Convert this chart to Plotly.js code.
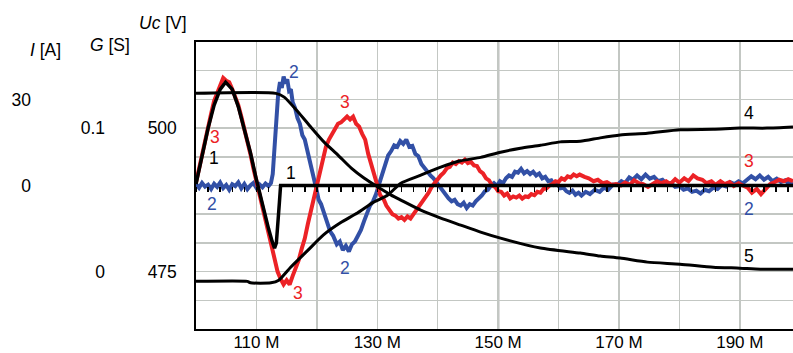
<!DOCTYPE html>
<html><head><meta charset="utf-8">
<script src="https://cdn.plot.ly/plotly-3.0.1.min.js"></script>
<style>html,body{margin:0;padding:0;background:#fff}#chart{width:793px;height:353px}</style>
</head><body><div id="chart"></div>
<script>
// ---- axis ticks ----
const xGridVals = [110,120,130,140,150,160,170,180,190];
const xTickText = ['110 M','','130 M','','150 M','','170 M','','190 M'];
const iTickVals = [0,30];
const gTickVals = [0,0.1];
const gTickText = ['0','0.1'];
const ucTickVals = [475,500];
const markerX = 150;

// ---- series 2 (blue), current axis ----
const blueX = [100,100.5,101,101.5,102,102.5,103,103.5,104,104.5,105,105.5,106,106.5,107,107.5,108,108.5,109,109.5,110,110.5,111,111.5,112,112.4,112.7,113,113.3,113.6,113.9,114.2,114.5,114.8,115.1,115.4,115.7,116,116.4,116.8,117.2,117.6,118,118.5,118.9,119.3,119.7,120,120.3,120.7,121.1,121.6,122.2,122.7,123.3,123.8,124.3,124.8,125.3,125.8,126.3,126.8,127.3,127.8,128.3,128.8,129.3,129.8,130.3,130.8,131.3,131.8,132.3,132.8,133.3,133.8,134.3,134.8,135.3,135.8,136.3,136.8,137.3,137.8,138.3,138.8,139.3,139.8,140.3,140.8,141.3,141.8,142.3,142.8,143.3,143.8,144.3,144.8,145.3,145.8,146.3,146.8,147.3,147.8,148.3,148.8,149.3,149.8,150.3,150.8,151.3,151.8,152.3,152.8,153.3,153.8,154.3,154.8,155.3,155.8,156.3,156.8,157.3,157.8,158.3,158.8,159.3,159.8,160.3,160.8,161.3,161.8,162.3,162.8,163.3,163.8,164.5,165.2,166,166.8,167.5,168.2,169,169.7,170.4,171,171.7,172.3,173,173.7,174.4,175.1,175.8,176.5,177.2,177.9,178.6,179.3,180,180.7,181.4,182.1,182.8,183.5,184.2,184.9,185.6,186.3,187,187.7,188.4,189.1,189.8,190.5,191.2,191.9,192.6,193.3,194,194.7,195.4,196.1,196.8,197.5,198.2,198.8];
const blueI = [0.5,-0.8,0.9,-0.4,0.3,-1.2,0.6,-0.5,1.0,-0.9,0.2,-1.5,0.4,-0.2,1.1,-1.0,0.5,-1.3,0.0,0.9,-0.8,0.4,-0.6,0.7,-0.2,0.8,4,14,24,32,36,34,38,35.5,37,33,33.5,29,27,23.5,21.5,17.5,16,11.5,9,5,2,-2,-5,-6.5,-9,-12,-16,-17.5,-20.5,-19.5,-22.5,-21,-23,-20.5,-19.5,-17.5,-15.5,-12.5,-10,-7,-5.5,-3,0.5,4,7.5,10.5,12,14,13.5,15.5,14.5,16,13.5,13.8,11,10.2,7.5,6,4.5,3.5,2.5,1,-0.5,-2,-3.5,-4.5,-5.5,-5,-6.5,-7,-6,-7.8,-6.5,-7,-5.5,-4.5,-3.5,-2,-1.5,0,0.8,-0.2,1.5,0.8,2.5,3.5,3.0,4.8,4.5,5.8,4.2,5.0,4.0,4.8,3.5,4.2,2.5,3.0,1.5,1.8,0.2,0.5,-1.0,-0.8,-2.0,-2.6,-1.8,-3.2,-2.5,-3.5,-2.2,-3.0,-1.5,-2.2,-0.8,-1.5,0.3,0.2,1.5,0.8,2.8,2.0,3.5,2.2,3.8,2.4,3.0,1.5,2.0,0.5,0.9,-0.5,-0.2,-1.5,-1.0,-2.2,-1.8,-2.8,-1.5,-2.0,-0.8,-1.2,0.2,-0.3,1.2,0.5,1.5,0.8,2.0,3.2,2.2,3.5,2.0,3.0,1.5,2.4,1.2,1.8,0.5,1.0];

// ---- series 3 (red), current axis ----
const redX = [100,100.5,101,101.5,102,102.5,103,103.5,104,104.5,105,105.5,106,106.5,107,107.5,108,108.5,109,109.5,110,110.5,111,111.5,112,112.5,113,113.5,114,114.5,115,115.5,116,116.5,117,117.5,118,118.5,119,119.5,120,120.5,121,121.5,122,122.5,123,123.5,124,124.5,125,125.5,126,126.5,127,127.5,128,128.5,129,129.5,130,130.5,131,131.5,132,132.5,133,133.5,134,134.5,135,135.5,136,136.5,137,137.5,138,138.5,139,139.5,140,140.5,141,141.5,142,142.5,143,143.5,144,144.5,145,145.5,146,146.5,147,147.5,148,148.5,149,149.5,150,150.5,151,151.5,152,152.5,153,153.5,154,154.5,155,155.5,156,156.5,157,157.5,158,158.5,159,159.5,160,160.5,161,161.5,162,162.5,163,163.5,164.3,165,165.8,166.5,167.3,168,168.8,169.5,170.3,171,171.8,172.5,173.3,174,174.8,175.5,176.3,177,177.8,178.5,179.3,180,180.8,181.5,182.3,183,183.8,184.5,185.3,186,186.8,187.5,188.3,189,189.8,190.5,191.3,192,192.8,193.5,194.3,195,195.8,196.5,197.3,198,198.8];
const redI = [1,6,11.5,16,21,25,29.5,32.5,35.5,37.5,36.5,36,33.5,31,28,24,20,15.5,11,6,1.5,-3,-7.5,-12,-17,-22,-26.5,-30,-32.5,-34.5,-33,-34.5,-31.5,-29,-26,-22,-18.5,-13.5,-9,-4,0.5,5,9.5,13.5,16,18,19.5,21.5,22,23,24,23,24,21.5,20.5,18,16,11,7.5,3.5,0.5,-3.5,-4.5,-7,-8.5,-10,-10.5,-11.5,-11,-12,-10.8,-11.5,-10,-8.5,-7.5,-6,-4,-2.5,-0.5,1,2,3.5,4.5,6,6.5,8,7.5,8.5,8,9,7.8,8.2,7,6.8,5.0,4.2,2.5,1.8,0,-0.5,-2,-2.2,-3.5,-2.8,-4.5,-3.8,-4.2,-3.5,-4.6,-3.8,-4.0,-3.0,-3.4,-2.2,-2.5,-1.2,-1.0,0,0.5,1.5,1.2,2.5,2.0,3.2,2.8,3.8,3.2,3.8,3.0,2.5,1.5,2.0,0.8,1.2,0.2,0.5,0.0,1.0,0.2,1.8,0.8,0.5,-0.5,0.6,1.5,0.8,1.5,0.5,2.2,1.0,2.5,1.5,3.5,2.5,2.0,0.8,1.5,0.2,1.5,0.5,1.2,-0.2,0.8,0.0,-0.8,-2.5,-1.2,-3.0,-1.0,0.5,1.2,2.0,1.5,2.2,1.5];

// ---- series 1 (black), current axis ----
const s1X = [100,101,102,103,104,104.9,106,107,108,109,110,111,112,112.6,113,113.3,113.6,113.8,114,198.8];
const s1I = [0.5,10.5,20,28,33.5,36,33.5,27.5,20,11.5,2,-7,-15,-19.5,-21.8,-20,-13,-6,0,0];

// ---- series 4 (black), Uc axis ----
const s4X = [100,108.5,109,112.4,113.7,115.7,118.5,121.1,123.9,126.7,129.4,131.7,133.9,137.2,140.5,143.8,147.1,150.4,153.7,157,160.3,163.6,166.9,170.2,174.7,180.1,185.6,190,194.5,198.8];
const s4Uc = [473.3,473.3,473.05,473.05,473.5,475.8,478.7,481.4,483.5,485.2,487.1,488.3,490.4,491.8,493.2,494.3,494.9,495.8,496.5,497.0,497.6,497.7,498.3,498.8,499.1,499.7,499.8,500,500,500.2];

// ---- series 5 (black), G axis ----
const s5X = [100,113.2,114.6,116.9,119.0,121.2,123.5,125.7,127.8,130.1,132.3,133.9,137.2,140.5,143.8,147.1,150.4,157.0,163.6,166.9,170.2,174.7,180.1,185.6,190.0,193.4,198.8];
const s5G = [0.1242,0.1242,0.1216,0.1112,0.1007,0.0902,0.0812,0.0721,0.0652,0.0589,0.0533,0.0498,0.0428,0.0373,0.0324,0.0275,0.0233,0.0164,0.0129,0.0108,0.0094,0.0066,0.0052,0.0031,0.0024,0.0017,0.0017];

// ---- in-plot labels ----
const labelText = ['1','1','2','2','2','2','3','3','3','3','4','5'];
const labelX    = [102.9,115.8,116.3,102.7,124.7,191.5,103.2,124.7,116.9,191.5,191.5,191.5];
const labelI    = [9.5,4.4,39.5,-6.4,-28.7,-8.3,16.9,29.1,-37.5,8.6,25.3,-24.6];

const BLUE = '#3250a6', RED = '#ec2226', BLACK = '#000000';
const labelColor = {'1':BLACK,'2':BLUE,'3':RED,'4':BLACK,'5':BLACK};
const FONT = 'Liberation Sans, Arial, sans-serif';

const traces = [
  {x: blueX, y: blueI, xaxis:'x', yaxis:'y', mode:'lines', line:{color:BLUE, width:4}, hoverinfo:'skip'},
  {x: redX, y: redI, xaxis:'x', yaxis:'y', mode:'lines', line:{color:RED, width:4}, hoverinfo:'skip'},
  {x: s5X, y: s5G, xaxis:'x', yaxis:'y3', mode:'lines', line:{color:BLACK, width:3, shape:'spline', smoothing:0.6}, hoverinfo:'skip'},
  {x: s4X, y: s4Uc, xaxis:'x', yaxis:'y4', mode:'lines', line:{color:BLACK, width:3, shape:'spline', smoothing:0.6}, hoverinfo:'skip'},
  {x: s1X, y: s1I, xaxis:'x2', yaxis:'y2', mode:'lines', line:{color:BLACK, width:3.5}, hoverinfo:'skip'}
];

const annotations = labelText.map((t,i)=>({
  text:t, x:labelX[i], y:labelI[i], xref:'x', yref:'y', showarrow:false,
  font:{family:FONT, size:17.5, color:labelColor[t]}, xanchor:'center', yanchor:'middle'
}));
annotations.push(
  {text:'<i>I</i> [A]', xref:'paper', yref:'paper', x:45/793, y:(329-50)/287, showarrow:false, xanchor:'center', yanchor:'middle', font:{family:FONT,size:17.5,color:'#000'}},
  {text:'<i>G</i> [S]', xref:'paper', yref:'paper', x:110/793, y:(329-45)/287, showarrow:false, xanchor:'center', yanchor:'middle', font:{family:FONT,size:17.5,color:'#000'}},
  {text:'<i>Uc</i> [V]', xref:'paper', yref:'paper', x:163/793, y:(329-23)/287, showarrow:false, xanchor:'center', yanchor:'middle', font:{family:FONT,size:17.5,color:'#000'}}
);

const dom = [196/793, 1];
const xr = [100, 198.8];
const GRID = '#c3c7c3';
const layout = {
  width:793, height:353, margin:{l:0, r:0, t:42, b:24, pad:0},
  paper_bgcolor:'#fff', plot_bgcolor:'#fff', showlegend:false,
  font:{family:FONT, size:17.5, color:'#000'},
  xaxis:{domain:dom, range:xr, tickvals:xGridVals, ticktext:xTickText, showgrid:true, gridcolor:GRID, gridwidth:1.5,
         showline:true, mirror:true, linecolor:'#000', linewidth:2, ticks:'', zeroline:false, ticklabelstandoff:-3,
         tickfont:{family:FONT, size:17, color:'#000'}, fixedrange:true},
  xaxis2:{domain:dom, overlaying:'x', anchor:'free', position:0.5, range:xr, tick0:100, dtick:2, ticks:'outside', ticklen:5,
          tickwidth:1.5, tickcolor:'#000', showticklabels:false, showgrid:false, showline:false, zeroline:false},
  yaxis:{domain:[0,1], range:[-50,50], tick0:0, dtick:10, showgrid:true, gridcolor:GRID, gridwidth:1.5, showticklabels:false,
         ticks:'', showline:true, linecolor:'#000', linewidth:2, zeroline:false, anchor:'x'},
  yaxis2:{overlaying:'y', anchor:'free', position:0.039, range:[-50,50], tickvals:iTickVals, showgrid:false, zeroline:false, showline:false, ticks:''},
  yaxis3:{overlaying:'y', anchor:'free', position:0.1325, range:[-0.04,0.16], tickvals:gTickVals, ticktext:gTickText, showgrid:false, zeroline:false, showline:false, ticks:''},
  yaxis4:{overlaying:'y', anchor:'free', position:0.223, range:[465,515], tickvals:ucTickVals, showgrid:false, zeroline:false, showline:false, ticks:''},
  shapes:[{type:'line', xref:'x', x0:markerX, x1:markerX, yref:'paper', y0:0, y1:1, line:{color:'#000', width:2}, layer:'below'}],
  annotations: annotations
};

Plotly.newPlot('chart', traces, layout, {staticPlot:true, displayModeBar:false});
</script>
</body></html>
